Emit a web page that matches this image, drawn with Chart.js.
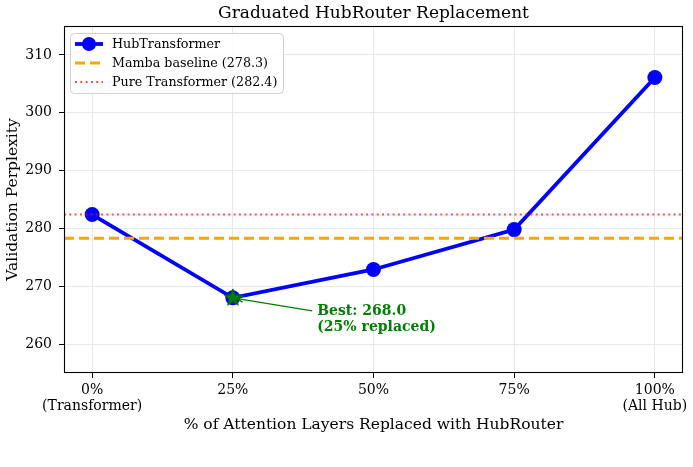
<!DOCTYPE html>
<html>
<head>
<meta charset="utf-8">
<script src="https://cdn.jsdelivr.net/npm/chart.js@4/dist/chart.umd.min.js"></script>
<style>
  html, body { margin: 0; padding: 0; background: #fff; }
  #wrap { width: 693px; height: 467px; }
</style>
</head>
<body>
<div id="wrap"><canvas id="hubChart" width="693" height="467"></canvas></div>
<script>
// data
const xPositions = [0, 1, 2, 3, 4];
const xTickLabels = [["0%", "(Transformer)"], "25%", "50%", "75%", ["100%", "(All Hub)"]];
const hubPerplexity = [282.4, 268.0, 272.9, 279.8, 306.1];
const yTicks = [260, 270, 280, 290, 300, 310];
const mambaBaseline = 278.3;
const pureTransformer = 282.4;
const bestIndex = 1;
const bestLabel = ["Best: 268.0", "(25% replaced)"];
const bestTextAt = [1.6, 264.2];

const xMin = -0.2, xMax = 4.2;
const yMin = 255, yMax = 315;

const FONT = "'DejaVu Serif', serif";
Chart.defaults.font.family = FONT;
Chart.defaults.color = "#000";

// filled star like matplotlib '*'
function makeStar(r) {
  const c = document.createElement("canvas");
  const s = Math.ceil(r * 2 + 4);
  c.width = s; c.height = s;
  const g = c.getContext("2d");
  g.translate(s / 2, s / 2);
  g.beginPath();
  for (let i = 0; i < 10; i++) {
    const rad = i % 2 === 0 ? r : r * 0.42;
    const a = -Math.PI / 2 + i * Math.PI / 5;
    g.lineTo(Math.cos(a) * rad, Math.sin(a) * rad);
  }
  g.closePath();
  g.fillStyle = "#008000";
  g.fill();
  g.strokeStyle = "#006400";
  g.lineWidth = 1;
  g.stroke();
  return c;
}

const frameAndNotes = {
  id: "frameAndNotes",
  afterDatasetsDraw(chart) {
    const ctx = chart.ctx;
    const xs = chart.scales.x, ys = chart.scales.y;

    // annotation arrow + text
    const px = xs.getPixelForValue(xPositions[bestIndex]);
    const py = ys.getPixelForValue(hubPerplexity[bestIndex]);
    const tx = xs.getPixelForValue(bestTextAt[0]);
    const ty = ys.getPixelForValue(bestTextAt[1]);
    const lh = 16;
    const firstY = ty - lh / 2;
    ctx.save();
    ctx.strokeStyle = "#008000";
    ctx.lineWidth = 1.3;
    const sx = tx - 5, sy = firstY - 1;
    ctx.beginPath();
    ctx.moveTo(sx, sy);
    ctx.lineTo(px + 3, py + 0.5);
    ctx.stroke();
    const ang = Math.atan2(py - sy, px - sx);
    ctx.beginPath();
    ctx.moveTo(px + 3 - Math.cos(ang - 0.4) * 8, py - Math.sin(ang - 0.4) * 8);
    ctx.lineTo(px + 3, py);
    ctx.lineTo(px + 3 - Math.cos(ang + 0.4) * 8, py - Math.sin(ang + 0.4) * 8);
    ctx.stroke();
    ctx.fillStyle = "#008000";
    ctx.font = "bold 14px " + FONT;
    ctx.textAlign = "left";
    ctx.textBaseline = "middle";
    bestLabel.forEach((t, i) => ctx.fillText(t, tx, firstY + i * lh));
    ctx.restore();
  },
  afterDraw(chart) {
    const ctx = chart.ctx;
    const a = chart.chartArea;
    ctx.save();
    // axes frame
    ctx.strokeStyle = "#000";
    ctx.lineWidth = 1.1;
    ctx.strokeRect(a.left + 0.5, a.top + 0.5, a.right - a.left - 1, a.bottom - a.top - 1);

    // legend box
    const bx = 70, by = 33, bw = 213, bh = 60, r = 4;
    ctx.beginPath();
    ctx.roundRect(bx + 0.5, by + 0.5, bw, bh, r);
    ctx.fillStyle = "rgba(255,255,255,0.85)";
    ctx.fill();
    ctx.strokeStyle = "#d0d0d0";
    ctx.lineWidth = 1;
    ctx.stroke();

    const items = chart.data.datasets.filter(d => d.legendText);
    items.forEach((d, i) => {
      const y = by + 11 + i * 19;
      ctx.beginPath();
      ctx.setLineDash(d.borderDash || []);
      ctx.strokeStyle = d.borderColor;
      ctx.lineWidth = d.borderWidth;
      ctx.moveTo(75, y);
      ctx.lineTo(103, y);
      ctx.stroke();
      ctx.setLineDash([]);
      if (d.pointRadius) {
        ctx.beginPath();
        ctx.arc(89, y, 7, 0, Math.PI * 2);
        ctx.fillStyle = d.pointBackgroundColor;
        ctx.fill();
      }
      ctx.fillStyle = "#000";
      ctx.font = "12.7px " + FONT;
      ctx.textAlign = "left";
      ctx.textBaseline = "middle";
      ctx.fillText(d.legendText, 112, y + 1);
    });
    ctx.restore();
  }
};

const ctx = document.getElementById("hubChart").getContext("2d");
new Chart(ctx, {
  type: "line",
  data: {
    datasets: [
      {
        legendText: "HubTransformer",
        data: xPositions.map((x, i) => ({ x: x, y: hubPerplexity[i] })),
        borderColor: "#0000ff",
        backgroundColor: "#0000ff",
        pointBackgroundColor: "#0000ff",
        pointBorderWidth: 0,
        borderWidth: 3.8,
        pointRadius: 7.5,
        tension: 0,
        order: 3
      },
      {
        legendText: "Mamba baseline (" + mambaBaseline + ")",
        data: [{ x: xMin, y: mambaBaseline }, { x: xMax, y: mambaBaseline }],
        borderColor: "#ffa500",
        borderWidth: 3,
        borderDash: [10, 5],
        pointRadius: 0,
        order: 2
      },
      {
        legendText: "Pure Transformer (" + pureTransformer + ")",
        data: [{ x: xMin, y: pureTransformer }, { x: xMax, y: pureTransformer }],
        borderColor: "rgba(255,0,0,0.7)",
        borderWidth: 2,
        borderDash: [2, 3.3],
        pointRadius: 0,
        order: 2
      },
      {
        data: [{ x: xPositions[bestIndex], y: hubPerplexity[bestIndex] }],
        pointStyle: makeStar(9),
        pointRadius: 9,
        showLine: false,
        order: 1
      }
    ]
  },
  options: {
    responsive: false,
    animation: false,
    layout: { padding: { top: 0, left: 0, right: 10, bottom: 30 } },
    plugins: {
      legend: { display: false },
      tooltip: { enabled: false },
      title: {
        display: true,
        fullSize: false,
        text: "Graduated HubRouter Replacement",
        font: { size: 17, weight: "normal" },
        padding: { top: 3.5, bottom: 2.1 }
      }
    },
    scales: {
      x: {
        type: "linear",
        min: xMin,
        max: xMax,
        afterBuildTicks: (s) => { s.ticks = xPositions.map(v => ({ value: v })); },
        afterFit: (s) => { s.height = 64; },
        ticks: {
          callback: (v) => xTickLabels[v],
          font: { size: 14 },
          padding: 3.5,
          maxRotation: 0,
          autoSkip: false
        },
        grid: { color: "#e8e8e8", tickColor: "#000", tickLength: 5 },
        border: { display: false },
        title: {
          display: true,
          text: "% of Attention Layers Replaced with HubRouter",
          font: { size: 15.5 },
          padding: { top: 0, bottom: 2.7 }
        }
      },
      y: {
        min: yMin,
        max: yMax,
        afterBuildTicks: (s) => { s.ticks = yTicks.map(v => ({ value: v })); },
        afterFit: (s) => { s.width = 64; },
        ticks: { font: { size: 14 }, padding: 7 },
        grid: { color: "#e8e8e8", tickColor: "#000", tickLength: 5 },
        border: { display: false },
        title: {
          display: true,
          text: "Validation Perplexity",
          font: { size: 15.5 },
          padding: { top: 3.7, bottom: 0 }
        }
      }
    }
  },
  plugins: [frameAndNotes]
});
</script>
</body>
</html>
